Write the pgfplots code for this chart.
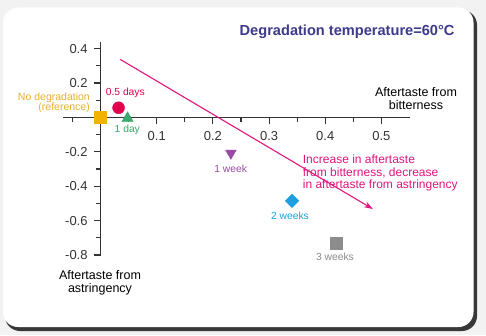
\documentclass[border=0pt]{standalone}
\usepackage{fontspec}
\setmainfont{Liberation Sans}
\usepackage{pgfplots}
\pgfplotsset{compat=1.18}
\usetikzlibrary{arrows.meta}
\definecolor{titlecol}{HTML}{3D3A8C}
\definecolor{refcol}{HTML}{F0B400}
\definecolor{refcoltxt}{HTML}{E8B030}
\definecolor{halfcol}{HTML}{E0004D}
\definecolor{daycol}{HTML}{3BAA6E}
\definecolor{weekcol}{HTML}{9B4BA5}
\definecolor{twocol}{HTML}{1E9FE0}
\definecolor{threecol}{HTML}{8C8C8C}
\definecolor{arrowcol}{HTML}{E0157F}
\definecolor{axcol}{HTML}{333333}
\begin{document}
\begin{tikzpicture}[x=1pt,y=1pt]
\path[use as bounding box] (0,0) rectangle (486,335);
\fill[black!5] (0,0) rectangle (486,335);
\fill[black!78, rounded corners=15pt] (5,4) rectangle (477,325);
\fill[white, rounded corners=15pt] (3,8) rectangle (473.5,327.5);
\begin{axis}[
  at={(63pt,80pt)}, anchor=south west,
  scale only axis, width=347pt, height=213.3pt,
  xmin=-0.067, xmax=0.551, ymin=-0.8, ymax=0.44,
  axis lines=middle,
  axis line style={-, draw=axcol, line width=1.2pt},
  clip=false,
  xtick={0.1,0.2,0.3,0.4,0.5},
  minor xtick={-0.05,0.05,0.15,0.25,0.35,0.45},
  ytick={0.4,0.2,-0.2,-0.4,-0.6,-0.8},
  minor ytick={0.3,0.1,-0.1,-0.3,-0.5,-0.7},
  xticklabels={0.1,0.2,0.3,0.4,0.5},
  yticklabels={0.4,0.2,-0.2,-0.4,-0.6,-0.8},
  tick align=outside,
  major tick length=7pt, minor tick length=4.5pt,
  tick style={draw=axcol, line width=1.1pt},
  /pgf/number format/assume math mode=true,
  ticklabel style={font=\fontsize{13}{15}\selectfont, text=axcol},
  xticklabel style={yshift=-3.5pt},
  yticklabel style={xshift=-2.5pt},
]
% arrow
\addplot[arrowcol, line width=1.1pt, -{Stealth[length=9pt,width=6pt]}] coordinates {(0.035,0.337) (0.485,-0.533)};
% points
\addplot[only marks, mark=square*, mark size=6pt, mark options={fill=refcol, draw=refcol}] coordinates {(0,0)};
\addplot[only marks, mark=*, mark size=6pt, mark options={fill=halfcol, draw=halfcol}] coordinates {(0.032,0.056)};
\addplot[only marks, mark=triangle*, mark size=6.5pt, mark options={fill=daycol, draw=daycol}] coordinates {(0.048,-0.005)};
\addplot[only marks, mark=triangle*, mark size=6.2pt, mark options={fill=weekcol, draw=weekcol, rotate=180}] coordinates {(0.232,-0.208)};
\addplot[only marks, mark=square*, mark size=4.8pt, mark options={fill=twocol, draw=twocol, rotate=45}] coordinates {(0.341,-0.485)};
\addplot[only marks, mark=square*, mark size=6pt, mark options={fill=threecol, draw=threecol}] coordinates {(0.419,-0.733)};
\end{axis}
% texts
\node[anchor=east, text=titlecol, font=\fontsize{14.6}{17}\selectfont\bfseries] at (458,303) {Degradation temperature=60°C};
\node[align=center, font=\fontsize{12.5}{13}\selectfont, inner sep=0] at (416,236) {Aftertaste from\\bitterness};
\node[align=center, font=\fontsize{12.5}{13}\selectfont, inner sep=0] at (100,52) {Aftertaste from\\astringency};
\node[anchor=east, align=right, text=refcoltxt, font=\fontsize{10.5}{10}\selectfont, inner sep=0] at (90,232) {No degradation\\(reference)};
\node[text=halfcol, font=\fontsize{10.3}{12}\selectfont, inner sep=0] at (125.3,241.7) {0.5 days};
\node[text=daycol, font=\fontsize{10.3}{12}\selectfont, inner sep=0] at (127.3,205) {1 day};
\node[text=weekcol, font=\fontsize{10.3}{12}\selectfont, inner sep=0] at (230.7,166.3) {1 week};
\node[text=twocol, font=\fontsize{10.3}{12}\selectfont, inner sep=0] at (290,119.3) {2 weeks};
\node[text=threecol, font=\fontsize{10.3}{12}\selectfont, inner sep=0] at (335,78.3) {3 weeks};
\node[anchor=west, align=left, text=arrowcol, font=\fontsize{12}{12.5}\selectfont, inner sep=0] at (302.7,161.7) {Increase in aftertaste\\from bitterness, decrease\\in aftertaste from astringency};
\end{tikzpicture}
\end{document}
